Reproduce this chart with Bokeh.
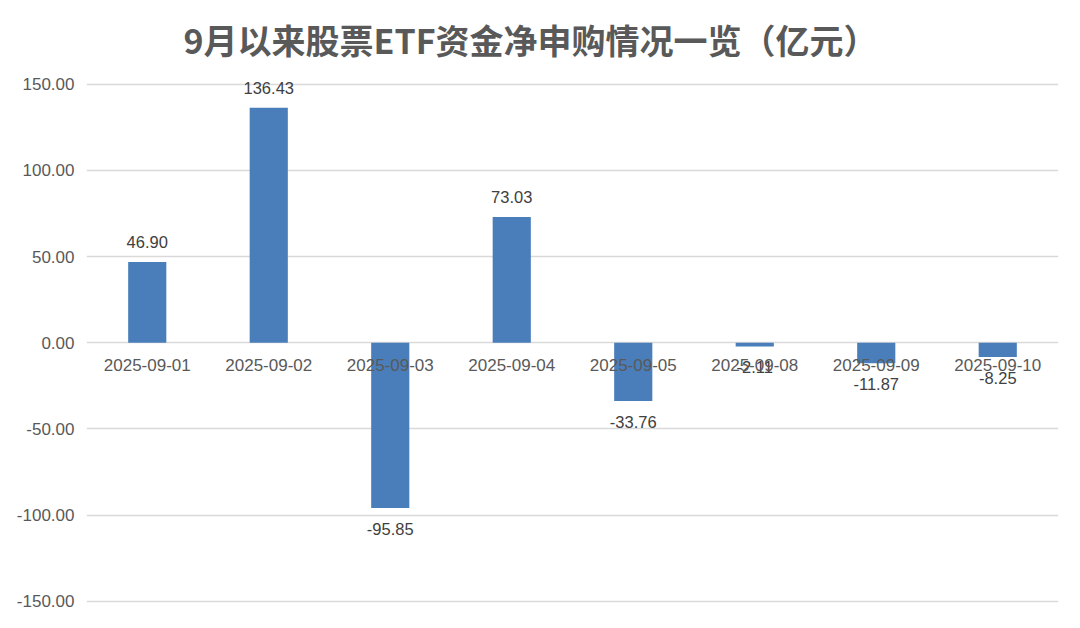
from bokeh.plotting import figure
from bokeh.models import ColumnDataSource, Range1d, FixedTicker, NumeralTickFormatter
from bokeh.core.properties import value
from bokeh.embed import file_html
from bokeh.resources import INLINE

title_text = "9月以来股票ETF资金净申购情况一览（亿元）"
dates = ["2025-09-01", "2025-09-02", "2025-09-03", "2025-09-04",
         "2025-09-05", "2025-09-08", "2025-09-09", "2025-09-10"]
flows = [46.90, 136.43, -95.85, 73.03, -33.76, -2.11, -11.87, -8.25]
y_ticks = [-150, -100, -50, 0, 50, 100, 150]

labels = ["%.2f" % v for v in flows]
offsets = [-20 if v >= 0 else 21 for v in flows]
src = ColumnDataSource(dict(x=dates, top=flows, label=labels, off=offsets,
                            zero=[0] * len(dates)))

p = figure(width=1064, height=612, x_range=dates, y_range=Range1d(-153, 158),
           output_backend="svg", toolbar_location=None,
           min_border_left=86, min_border_right=6, min_border_top=70, min_border_bottom=6)

p.title.text = title_text
p.title.align = "left"
p.title.offset = 97
p.title.standoff = 13
p.title.text_font = "Noto Sans CJK SC"
p.title.text_font_size = "34px"
p.title.text_font_style = "bold"
p.title.text_color = "#595959"

p.vbar(x="x", top="top", bottom=0, width=0.314, source=src,
       fill_color="#4a7ebb", line_color=None)

p.text(x="x", y="top", text="label", y_offset="off", source=src,
       text_align="center", text_baseline="middle",
       text_font=value("Liberation Sans"), text_font_size="16.5px", text_color="#404040")

p.text(x="x", y="zero", text="x", y_offset=22, source=src,
       text_align="center", text_baseline="middle",
       text_font=value("Liberation Sans"), text_font_size="17px", text_color="#595959")

p.xaxis.visible = False
p.xgrid.grid_line_color = None
p.ygrid.grid_line_color = "#d9d9d9"
p.ygrid.grid_line_width = 1.5
p.yaxis.ticker = FixedTicker(ticks=y_ticks)
p.yaxis.formatter = NumeralTickFormatter(format="0.00")
p.yaxis.axis_line_color = None
p.yaxis.major_tick_line_color = None
p.yaxis.minor_tick_line_color = None
p.yaxis.major_label_standoff = 6
p.yaxis.major_label_text_font = "Liberation Sans"
p.yaxis.major_label_text_font_size = "17px"
p.yaxis.major_label_text_color = "#595959"
p.outline_line_color = None

open("out.html", "w").write(file_html(p, INLINE))
